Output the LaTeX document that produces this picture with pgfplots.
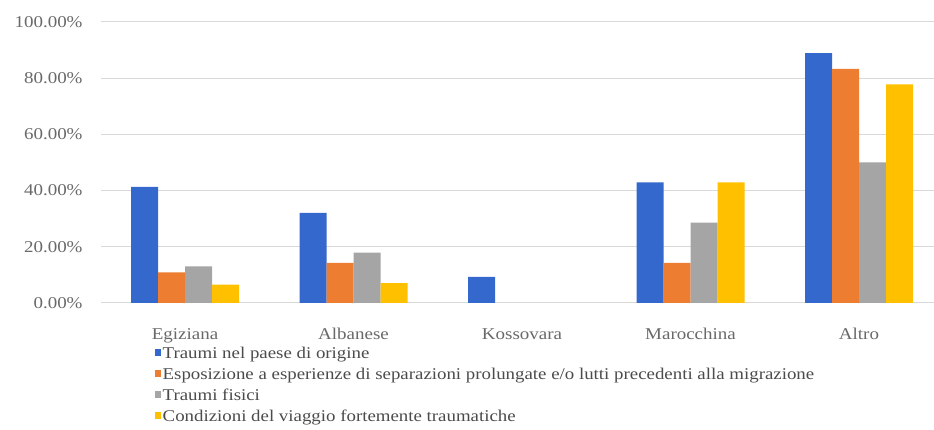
\documentclass[border=0pt]{standalone}
\usepackage{fontspec}
\setmainfont{Liberation Serif}[FakeStretch=1.15]
\usepackage{pgfplots}
\pgfplotsset{compat=1.18}
\definecolor{cblue}{RGB}{52,104,204}
\definecolor{corange}{RGB}{237,125,49}
\definecolor{cgray}{RGB}{165,165,165}
\definecolor{cyellow}{RGB}{255,192,0}
\definecolor{gridc}{RGB}{217,217,217}
\definecolor{tickc}{RGB}{105,105,105}
\definecolor{legc}{RGB}{75,75,75}
\begin{document}
\begin{tikzpicture}[x=1pt,y=1pt]
\useasboundingbox (0,0) rectangle (934,430);
\begin{axis}[
  at={(100.75pt,127pt)}, anchor=south west,
  scale only axis, width=833.25pt, height=281pt,
  xmin=-0.5, xmax=4.445, ymin=0, ymax=100,
  ybar=0pt, bar width=27pt,
  axis x line*=bottom, axis y line*=left,
  x axis line style={draw=gridc, line width=1pt},
  y axis line style={draw=none},
  xtick={0,1,2,3,4},
  xticklabels={Egiziana,Albanese,Kossovara,Marocchina,Altro},
  xtick style={draw=none},
  xticklabel style={font=\fontsize{16.5}{18}\selectfont, text=tickc, anchor=base, inner sep=0pt},
  xticklabel shift=32pt,
  ytick={0,20,40,60,80,100},
  ymajorgrids, major grid style={draw=gridc, line width=1pt},
  ytick style={draw=none},
  yticklabel={\pgfmathprintnumber[fixed,fixed zerofill,precision=2]{\tick}\%},
  yticklabel style={font=\fontsize{16.5}{18}\selectfont, text=tickc, anchor=east, inner sep=0pt},
  yticklabel shift=18pt,
  /pgf/number format/assume math mode=true,
  clip=false,
  legend cell align=left,
  legend style={at={(0.0651,-0.153)}, anchor=north west, draw=none, fill=none,
    font=\fontsize{16.4}{18}\selectfont, text=legc, row sep=4.5pt, inner sep=0pt,
    nodes={inner sep=0pt, text height=12pt, text depth=4.5pt},
    /tikz/every odd column/.append style={column sep=1.5pt}},
  legend image code/.code={\fill[#1] (0pt,-2pt) rectangle (6pt,5pt);},
]
\addplot[fill=cblue, draw=none] coordinates {(0,41.3) (1,32.1) (2,9.3) (3,42.9) (4,88.9)};
\addplot[fill=corange, draw=none] coordinates {(0,10.9) (1,14.3) (3,14.3) (4,83.3)};
\addplot[fill=cgray, draw=none] coordinates {(0,13.0) (1,17.9) (3,28.6) (4,50.0)};
\addplot[fill=cyellow, draw=none] coordinates {(0,6.5) (1,7.1) (3,42.9) (4,77.8)};
\legend{Traumi nel paese di origine,
Esposizione a esperienze di separazioni prolungate e/o lutti precedenti alla migrazione,
Traumi fisici,
Condizioni del viaggio fortemente traumatiche}
\end{axis}
\end{tikzpicture}
\end{document}
